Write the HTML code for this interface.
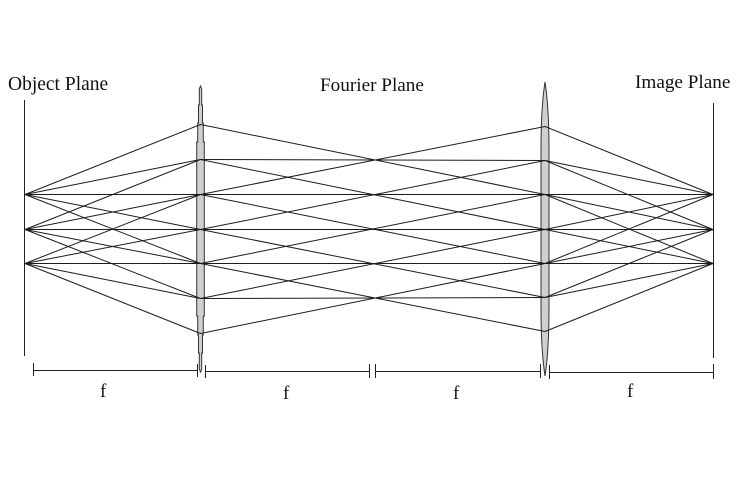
<!DOCTYPE html>
<html>
<head>
<meta charset="utf-8">
<style>
  html, body { margin:0; padding:0; background:#fff; }
  svg { display:block; }
  text { font-family: "Liberation Serif", serif; fill:#111; }
</style>
</head>
<body>
<svg width="741" height="480" viewBox="0 0 741 480" xmlns="http://www.w3.org/2000/svg">
  <rect width="741" height="480" fill="#fff"/>

  <!-- Titles -->
  <text x="8" y="90" font-size="19.5">Object Plane</text>
  <text x="320" y="91" font-size="19.2">Fourier Plane</text>
  <text x="635" y="88" font-size="19.2">Image Plane</text>

  <!-- Object & image planes -->
  <line x1="24.5" y1="100" x2="24.5" y2="356" stroke="#222" stroke-width="1"/>
  <line x1="713.5" y1="103" x2="713.5" y2="358" stroke="#222" stroke-width="1"/>

  <!-- Lens 1 (stepped) -->
  <path d="M200.5,86 L201.7,89 L201.7,105 L202.5,105 L202.5,123 L203.3,123 L203.3,142 L204.3,142 L204.3,316 L203.3,316 L203.3,335 L202.5,335 L202.5,353 L201.7,353 L201.7,369 L200.5,372 L199.3,369 L199.3,353 L198.5,353 L198.5,335 L197.7,335 L197.7,316 L196.7,316 L196.7,142 L197.7,142 L197.7,123 L198.5,123 L198.5,105 L199.3,105 L199.3,89 Z"
        fill="#cfcfcf" stroke="#333" stroke-width="1"/>
  <!-- Lens 2 -->
  <path d="M545,82 C547,95 549,115 549,150 L549,308 C549,343 547,363 545,376 C543,363 541,343 541,308 L541,150 C541,115 543,95 545,82 Z"
        fill="#cfcfcf" stroke="#333" stroke-width="1"/>

  <g stroke="#1c1c1c" stroke-width="1" fill="none">
    <!-- Object -> Lens 1 -->
    <!-- o = -1 (y 194.5) -->
    <line x1="25" y1="194.5" x2="200.5" y2="124.5"/>
    <line x1="25" y1="194.5" x2="200.5" y2="159.5"/>
    <line x1="25" y1="194.5" x2="200.5" y2="194.5"/>
    <line x1="25" y1="194.5" x2="200.5" y2="229.5"/>
    <line x1="25" y1="194.5" x2="200.5" y2="263.5"/>
    <!-- o = 0 (y 229.5) -->
    <line x1="25" y1="229.5" x2="200.5" y2="159.5"/>
    <line x1="25" y1="229.5" x2="200.5" y2="194.5"/>
    <line x1="25" y1="229.5" x2="200.5" y2="229.5"/>
    <line x1="25" y1="229.5" x2="200.5" y2="263.5"/>
    <line x1="25" y1="229.5" x2="200.5" y2="298.5"/>
    <!-- o = 1 (y 263.5) -->
    <line x1="25" y1="263.5" x2="200.5" y2="194.5"/>
    <line x1="25" y1="263.5" x2="200.5" y2="229.5"/>
    <line x1="25" y1="263.5" x2="200.5" y2="263.5"/>
    <line x1="25" y1="263.5" x2="200.5" y2="298.5"/>
    <line x1="25" y1="263.5" x2="200.5" y2="333.5"/>

    <!-- Lens 1 -> Lens 2 -->
    <!-- o = -1 -->
    <line x1="200.5" y1="124.5" x2="545" y2="194.5"/>
    <line x1="200.5" y1="159.5" x2="545" y2="229.5"/>
    <line x1="200.5" y1="194.5" x2="545" y2="263.5"/>
    <line x1="200.5" y1="229.5" x2="545" y2="297.5"/>
    <line x1="200.5" y1="263.5" x2="545" y2="331.5"/>
    <!-- o = 0 -->
    <line x1="200.5" y1="159.5" x2="545" y2="160.5"/>
    <line x1="200.5" y1="194.5" x2="545" y2="194.5"/>
    <line x1="200.5" y1="229.5" x2="545" y2="229.5"/>
    <line x1="200.5" y1="263.5" x2="545" y2="263.5"/>
    <line x1="200.5" y1="298.5" x2="545" y2="297.5"/>
    <!-- o = 1 -->
    <line x1="200.5" y1="194.5" x2="545" y2="126.5"/>
    <line x1="200.5" y1="229.5" x2="545" y2="160.5"/>
    <line x1="200.5" y1="263.5" x2="545" y2="194.5"/>
    <line x1="200.5" y1="298.5" x2="545" y2="229.5"/>
    <line x1="200.5" y1="333.5" x2="545" y2="263.5"/>

    <!-- Lens 2 -> Image -->
    <!-- o = -1 -> image 263.5 -->
    <line x1="545" y1="194.5" x2="713" y2="263.5"/>
    <line x1="545" y1="229.5" x2="713" y2="263.5"/>
    <line x1="545" y1="263.5" x2="713" y2="263.5"/>
    <line x1="545" y1="297.5" x2="713" y2="263.5"/>
    <line x1="545" y1="331.5" x2="713" y2="263.5"/>
    <!-- o = 0 -> image 229.5 -->
    <line x1="545" y1="160.5" x2="713" y2="229.5"/>
    <line x1="545" y1="194.5" x2="713" y2="229.5"/>
    <line x1="545" y1="229.5" x2="713" y2="229.5"/>
    <line x1="545" y1="263.5" x2="713" y2="229.5"/>
    <line x1="545" y1="297.5" x2="713" y2="229.5"/>
    <!-- o = 1 -> image 194.5 -->
    <line x1="545" y1="126.5" x2="713" y2="194.5"/>
    <line x1="545" y1="160.5" x2="713" y2="194.5"/>
    <line x1="545" y1="194.5" x2="713" y2="194.5"/>
    <line x1="545" y1="229.5" x2="713" y2="194.5"/>
    <line x1="545" y1="263.5" x2="713" y2="194.5"/>
  </g>

  <!-- Dimension lines -->
  <g stroke="#222" stroke-width="1" fill="none">
    <line x1="33.5" y1="370.5" x2="197.5" y2="370.5"/>
    <line x1="33.5" y1="363" x2="33.5" y2="376"/>
    <line x1="197.5" y1="364" x2="197.5" y2="377"/>

    <line x1="205.5" y1="371.5" x2="369.5" y2="371.5"/>
    <line x1="205.5" y1="365" x2="205.5" y2="378"/>
    <line x1="369.5" y1="364" x2="369.5" y2="378"/>

    <line x1="375.5" y1="371.5" x2="540.5" y2="371.5"/>
    <line x1="375.5" y1="364" x2="375.5" y2="378"/>
    <line x1="540.5" y1="364" x2="540.5" y2="378"/>

    <line x1="549.5" y1="372.5" x2="713.5" y2="372.5"/>
    <line x1="549.5" y1="365" x2="549.5" y2="379"/>
    <line x1="713.5" y1="364" x2="713.5" y2="379"/>
  </g>

  <!-- f labels -->
  <text x="100" y="397" font-size="19">f</text>
  <text x="283" y="399" font-size="19">f</text>
  <text x="453" y="399" font-size="19">f</text>
  <text x="627" y="397" font-size="19">f</text>
</svg>
</body>
</html>
